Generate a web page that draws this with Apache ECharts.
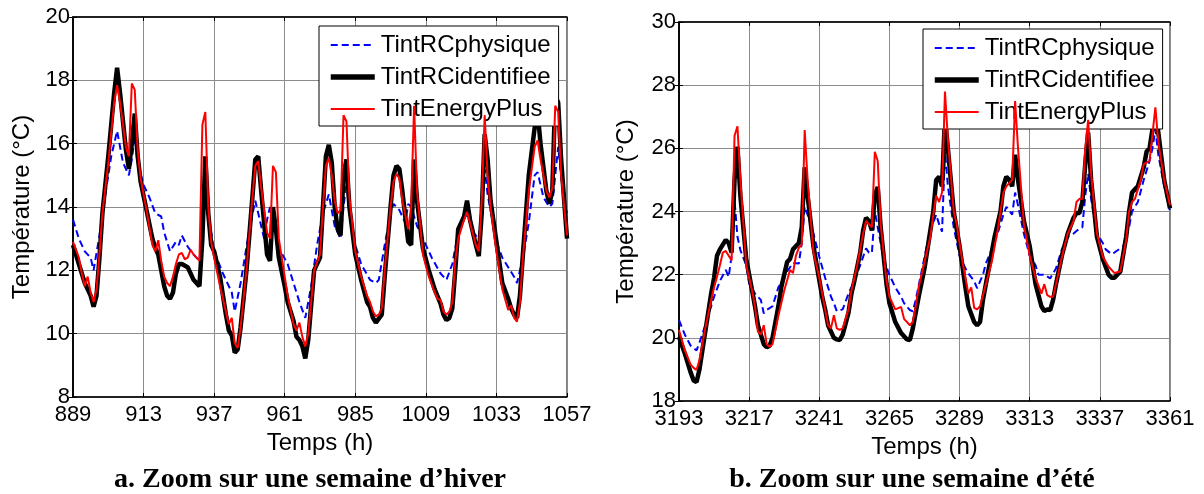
<!DOCTYPE html>
<html><head><meta charset="utf-8">
<script src="https://cdn.jsdelivr.net/npm/echarts@6/dist/echarts.min.js"></script>
<style>html,body{margin:0;padding:0;background:#fff}#c{width:1204px;height:494px}</style>
</head><body><div id="c"></div>
<script>
// ---------- data ----------
const seriesNames = ['TintRCphysique', 'TintRCidentifiee', 'TintEnergyPlus'];
const captions = ['a. Zoom sur une semaine d\u2019hiver', 'b. Zoom sur une semaine d\u2019\u00e9t\u00e9'];
const xName = 'Temps (h)';
const yName = 'Temp\u00e9rature (\u00b0C)';
const xTicksA = [889, 913, 937, 961, 985, 1009, 1033, 1057];
const xTicksB = [3193, 3217, 3241, 3265, 3289, 3313, 3337, 3361];
const yRangeA = [8, 20];
const yRangeB = [18, 30];

// Winter week: [hour, °C]
const physA = [[889,13.6],[891,13.0],[893,12.6],[895,12.4],[896,12.0],[898,13.1],[900,14.4],[902,15.6],[904,16.4],[906,15.4],[908,15.0],[909,15.5],[910,16.2],[911,15.4],[913,14.7],[915,14.3],[917,13.8],[919,13.7],[920,13.2],[922,12.6],[924,12.9],[925,12.8],[926,13.1],[928,12.75],[930,12.5],[932,12.3],[933,13.5],[934,14.9],[935,13.8],[937,12.6],[940,11.9],[943,11.3],[944,10.7],[946,11.6],[949,13.3],[951,14.2],[952,13.8],[954,13.0],[955,13.6],[956,14.0],[957,13.6],[959,12.7],[962,12.2],[964,11.6],[966,11.0],[968,10.5],[970,11.5],[972,12.8],[974,13.8],[976,14.4],[978,13.4],[980,13.0],[981,14.0],[982,14.8],[983,13.8],[985,12.8],[987,12.2],[990,11.7],[992,11.6],[993,11.7],[995,12.8],[997,13.8],[998,14.1],[1000,13.9],[1002,13.5],[1003,14.1],[1004,14.0],[1006,13.4],[1008,13.0],[1011,12.4],[1014,11.9],[1016,11.7],[1018,12.2],[1020,13.2],[1022,13.6],[1023,13.8],[1025,13.2],[1027,13.0],[1028,14.0],[1029,15.2],[1030,14.4],[1033,12.9],[1035,12.4],[1037,12.1],[1039,11.8],[1040,11.6],[1042,12.4],[1044,13.5],[1046,15.0],[1047,15.1],[1049,14.3],[1051,14.0],[1052,14.1],[1053,15.0],[1054,15.9],[1055,15.0],[1056,14.2],[1057,13.8]];
const identA = [[889,12.8],[891,12.2],[893,11.6],[894,11.4],[895,11.2],[896,10.85],[897,11.2],[898,12.4],[899,13.8],[901,15.6],[903,17.6],[904,18.4],[905,17.6],[907,15.8],[908,15.2],[909,16.0],[910,16.95],[911,15.6],[912,14.8],[914,13.9],[916,13.0],[917,12.7],[918,12.5],[920,11.5],[921,11.2],[922,11.1],[923,11.3],[924,11.9],[925,12.2],[926,12.2],[928,12.1],[930,11.7],[931,11.6],[932,11.5],[933,13.0],[934,15.6],[935,13.8],[936,12.8],[937,12.6],[939,11.8],[941,10.6],[942,10.1],[943,9.95],[944,9.4],[945,9.5],[946,10.2],[948,12.0],[950,14.3],[951,15.5],[952,15.6],[953,14.5],[955,12.5],[956,12.3],[957,14.0],[958,13.3],[959,12.4],[961,11.5],[962,11.0],[964,10.4],[965,9.9],[966,9.8],[967,9.6],[968,9.22],[969,9.8],[971,12.0],[973,12.4],[974,14.0],[975,15.6],[976,15.96],[977,15.4],[978,14.0],[979,13.3],[980,13.1],[981,15.0],[982,15.5],[983,14.0],[985,12.5],[987,11.7],[989,11.0],[990,10.85],[991,10.5],[992,10.35],[994,10.6],[995,11.8],[997,14.0],[998,15.0],[999,15.3],[1000,15.2],[1001,14.5],[1003,12.9],[1004,12.8],[1005,15.5],[1006,14.2],[1008,12.7],[1010,12.0],[1012,11.4],[1014,10.95],[1015,10.6],[1016,10.43],[1017,10.5],[1018,10.8],[1019,12.0],[1020,13.3],[1021,13.5],[1022,13.7],[1023,14.2],[1024,13.6],[1026,12.8],[1027,12.45],[1028,13.8],[1029,16.3],[1030,15.5],[1031,14.2],[1033,12.9],[1035,11.6],[1037,11.1],[1038,10.8],[1039,10.6],[1040,10.5],[1041,11.2],[1042,12.5],[1044,15.0],[1046,16.5],[1047,17.0],[1048,16.0],[1050,14.5],[1051,14.1],[1052,14.5],[1053,17.5],[1054,17.3],[1055,15.5],[1057,13.0]];
const energyA = [[889,12.9],[891,12.4],[892,11.9],[893,11.5],[894,11.8],[895,11.3],[896,11.0],[897,11.4],[898,12.5],[899,13.8],[901,15.4],[903,17.3],[904,17.85],[905,17.3],[907,15.9],[908,15.6],[909,17.9],[910,17.7],[911,15.8],[912,14.9],[914,13.9],[916,12.8],[917,12.6],[918,12.95],[919,12.3],[920,11.8],[921,11.6],[922,11.5],[923,11.8],[924,12.2],[925,12.5],[926,12.55],[927,12.35],[928,12.4],[929,12.65],[930,12.5],[931,12.4],[932,12.3],[933,16.6],[934,17.0],[935,14.0],[936,12.9],[937,12.4],[939,11.5],[940,11.1],[942,10.3],[943,10.5],[944,9.7],[945,9.55],[946,10.2],[948,12.0],[950,14.3],[951,15.3],[952,15.45],[953,14.6],[955,13.2],[956,13.0],[957,15.3],[958,15.1],[959,13.0],[961,11.8],[962,11.2],[964,10.3],[965,10.1],[966,10.35],[967,9.9],[968,9.6],[969,10.0],[971,12.0],[973,12.5],[974,14.0],[975,15.3],[976,15.55],[977,15.0],[978,14.2],[979,13.8],[980,13.9],[981,16.9],[982,16.7],[983,14.3],[985,12.6],[987,11.8],[989,11.2],[990,11.0],[991,10.7],[992,10.55],[993,10.6],[994,10.8],[995,12.0],[997,14.0],[998,14.8],[999,15.05],[1000,14.9],[1001,14.2],[1003,13.3],[1004,14.0],[1005,17.2],[1006,14.5],[1008,12.5],[1010,11.8],[1012,11.3],[1013,11.1],[1014,11.06],[1015,10.7],[1016,10.6],[1017,10.7],[1018,11.0],[1019,12.3],[1020,13.0],[1022,13.6],[1023,13.85],[1024,13.5],[1026,12.8],[1027,12.6],[1028,14.2],[1029,16.9],[1030,15.0],[1031,14.0],[1033,12.6],[1035,11.4],[1037,10.75],[1038,10.9],[1039,10.5],[1040,10.38],[1041,11.0],[1042,12.4],[1044,14.5],[1046,15.9],[1047,16.1],[1048,15.5],[1050,14.5],[1051,14.3],[1052,14.6],[1053,17.2],[1054,17.0],[1055,15.0],[1057,13.1]];

// Summer week: [hour, °C]
const physB = [[3193,20.56],[3195,20.1],[3197,19.75],[3199,19.6],[3200,19.85],[3202,20.4],[3205,21.3],[3207,21.8],[3209,22.15],[3210,21.93],[3211,22.6],[3212,24.36],[3213,23.2],[3214,22.78],[3216,22.3],[3217,21.72],[3219,21.4],[3221,21.2],[3222,20.78],[3223,20.88],[3225,21.0],[3227,21.6],[3229,21.9],[3230,22.1],[3232,22.37],[3234,22.35],[3235,23.0],[3236,24.15],[3237,23.9],[3239,23.3],[3241,22.57],[3243,21.9],[3245,21.3],[3246,21.1],[3247,20.84],[3249,20.9],[3251,21.4],[3253,21.8],[3255,22.3],[3257,22.83],[3258,22.7],[3259,22.68],[3260,24.0],[3261,23.5],[3263,22.5],[3265,21.99],[3267,21.6],[3269,21.3],[3270,21.1],[3272,20.88],[3273,20.84],[3274,21.2],[3276,22.1],[3278,23.0],[3279,23.4],[3281,23.9],[3282,23.6],[3283,23.36],[3284,25.9],[3285,24.8],[3287,23.5],[3289,22.6],[3291,22.2],[3292,22.04],[3294,21.8],[3295,21.57],[3297,22.0],[3298,22.36],[3300,22.8],[3302,23.3],[3304,23.9],[3305,24.15],[3307,23.9],[3308,24.6],[3309,24.2],[3311,23.3],[3313,22.6],[3315,22.3],[3316,22.0],[3318,22.0],[3320,21.88],[3322,22.2],[3324,22.8],[3326,23.2],[3328,23.3],[3330,23.46],[3331,23.5],[3332,24.5],[3333,25.2],[3334,24.4],[3336,23.3],[3338,23.0],[3339,22.8],[3341,22.65],[3342,22.7],[3345,22.9],[3347,23.5],[3348,24.0],[3350,24.3],[3352,25.0],[3353,25.3],[3354,25.6],[3355,26.0],[3356,26.6],[3357,25.8],[3359,24.8],[3361,24.0]];
const identB = [[3193,20.03],[3195,19.5],[3197,18.9],[3198,18.65],[3199,18.6],[3200,19.0],[3202,20.2],[3204,21.4],[3205,21.9],[3206,22.6],[3207,22.8],[3208,22.95],[3209,23.1],[3210,23.0],[3211,22.7],[3212,25.0],[3213,26.05],[3214,24.5],[3216,22.5],[3218,21.5],[3219,21.0],[3220,20.4],[3221,20.1],[3222,19.8],[3223,19.7],[3224,19.75],[3225,20.0],[3227,21.0],[3228,21.6],[3230,22.4],[3231,22.5],[3232,22.8],[3234,23.0],[3235,23.5],[3236,25.4],[3237,24.5],[3239,22.9],[3241,21.83],[3242,21.3],[3243,20.9],[3244,20.4],[3246,20.0],[3247,19.95],[3248,19.93],[3249,20.1],[3251,20.8],[3252,21.4],[3253,21.8],[3255,22.7],[3256,23.4],[3257,23.8],[3258,23.7],[3259,23.4],[3260,24.5],[3261,24.78],[3262,23.5],[3264,21.7],[3265,21.1],[3267,20.5],[3269,20.15],[3271,19.95],[3272,19.93],[3273,20.3],[3274,20.8],[3275,21.3],[3277,22.2],[3279,23.4],[3280,24.0],[3281,25.0],[3282,25.1],[3283,24.8],[3284,27.0],[3285,26.0],[3287,24.0],[3289,22.9],[3291,21.6],[3292,21.0],[3294,20.5],[3295,20.4],[3296,20.5],[3297,21.2],[3299,22.2],[3301,23.2],[3303,24.0],[3304,24.8],[3305,25.1],[3306,25.0],[3307,24.8],[3308,25.8],[3309,25.0],[3311,23.7],[3313,22.9],[3315,21.7],[3317,21.0],[3318,20.85],[3319,20.9],[3320,20.88],[3321,21.2],[3322,21.7],[3324,22.6],[3326,23.3],[3328,23.8],[3329,23.95],[3330,23.95],[3331,24.3],[3332,25.5],[3333,26.5],[3334,25.0],[3336,23.2],[3338,22.5],[3340,22.0],[3341,21.9],[3342,21.9],[3344,22.1],[3346,23.2],[3347,24.0],[3348,24.6],[3349,24.7],[3350,24.8],[3352,25.4],[3353,25.9],[3354,26.0],[3356,27.2],[3357,26.5],[3359,25.0],[3361,24.1]];
const energyB = [[3193,20.25],[3195,19.6],[3197,19.15],[3198,19.05],[3199,18.98],[3200,19.3],[3202,20.3],[3204,21.2],[3205,21.6],[3206,21.93],[3207,22.3],[3208,22.7],[3209,22.75],[3210,22.6],[3211,22.45],[3212,26.4],[3213,26.7],[3214,25.0],[3216,22.3],[3218,21.5],[3219,21.0],[3220,20.2],[3221,20.1],[3222,20.4],[3223,19.8],[3224,19.72],[3225,19.8],[3227,20.7],[3229,21.5],[3231,22.15],[3232,22.05],[3233,22.6],[3234,22.85],[3235,22.95],[3236,26.58],[3237,25.0],[3239,22.7],[3241,21.9],[3243,20.9],[3244,20.4],[3245,20.3],[3246,20.72],[3247,20.3],[3248,20.25],[3249,20.3],[3251,20.9],[3252,21.5],[3254,22.3],[3256,23.3],[3257,23.7],[3258,23.6],[3259,23.5],[3260,25.89],[3261,25.6],[3262,23.6],[3264,21.8],[3265,21.3],[3267,20.9],[3269,20.98],[3270,20.6],[3272,20.4],[3273,20.5],[3274,21.0],[3275,21.6],[3277,22.4],[3279,23.2],[3280,23.9],[3281,24.5],[3282,24.3],[3283,24.6],[3284,27.8],[3285,26.3],[3287,24.0],[3288,23.6],[3290,22.4],[3292,21.4],[3293,21.6],[3294,20.95],[3295,20.9],[3296,21.0],[3298,21.7],[3300,22.4],[3302,23.4],[3303,24.0],[3304,24.6],[3305,24.8],[3306,24.9],[3307,25.0],[3308,27.5],[3309,26.0],[3311,23.6],[3313,22.6],[3315,21.9],[3317,21.4],[3318,21.7],[3319,21.35],[3320,21.3],[3321,21.3],[3322,21.7],[3324,22.55],[3326,23.3],[3328,23.7],[3329,24.3],[3330,24.4],[3331,24.4],[3332,26.0],[3333,26.9],[3334,25.2],[3336,23.3],[3338,22.57],[3340,22.25],[3342,22.05],[3344,22.1],[3346,23.1],[3347,24.0],[3348,24.3],[3349,24.4],[3351,25.0],[3352,25.5],[3354,25.6],[3356,27.3],[3357,26.2],[3359,25.0],[3361,24.2]];

// ---------- chart ----------
const FONT = 'Liberation Sans';
const lineStyles = [
  { color: '#0000ff', width: 2, type: [7, 4] },
  { color: '#000000', width: 4.5 },
  { color: '#ff0000', width: 2 }
];
const legendLineWidths = [2, 5.5, 2];
const GRID_COLOR = '#8c8c8c';
const span = xTicksA[xTicksA.length - 1] - xTicksA[0];
const step = xTicksA[1] - xTicksA[0];

function xAxes(gridIndex, ticks) {
  const base = {
    gridIndex, type: 'value', min: 0, max: span, interval: step,
    axisLine: { show: true, lineStyle: { color: '#000', width: 1.5 } },
    axisTick: { show: true, inside: true, length: 4, lineStyle: { color: '#000' } }
  };
  return [
    Object.assign({}, base, {
      position: 'bottom',
      splitLine: { show: true, lineStyle: { color: GRID_COLOR, width: 1 } },
      axisLabel: { show: true, margin: 7, fontSize: 22, fontFamily: FONT, color: '#000',
        formatter: v => String(ticks[Math.round(v / step)]) },
      name: xName, nameLocation: 'middle', nameGap: 28,
      nameTextStyle: { fontSize: 24, fontFamily: FONT, color: '#000' }
    }),
    Object.assign({}, base, { position: 'top', splitLine: { show: false }, axisLabel: { show: false } })
  ];
}
function yAxes(gridIndex, range, gap) {
  const base = {
    gridIndex, type: 'value', min: range[0], max: range[1], interval: 2,
    axisLine: { show: true, lineStyle: { color: '#000', width: 1.5 } },
    axisTick: { show: true, inside: true, length: 4, lineStyle: { color: '#000' } }
  };
  return [
    Object.assign({}, base, {
      position: 'left',
      splitLine: { show: true, lineStyle: { color: GRID_COLOR, width: 1 } },
      axisLabel: { show: true, margin: 3, fontSize: 22, fontFamily: FONT, color: '#000' },
      name: yName, nameLocation: 'middle', nameGap: gap,
      nameTextStyle: { fontSize: 24, fontFamily: FONT, color: '#000' }
    }),
    Object.assign({}, base, { position: 'right', splitLine: { show: false }, axisLabel: { show: false } })
  ];
}
function mkSeries(sets, start, axisIdx) {
  return sets.map((d, i) => ({
    type: 'line', name: seriesNames[i], xAxisIndex: axisIdx, yAxisIndex: axisIdx,
    data: d.map(p => [p[0] - start, p[1]]),
    showSymbol: false, symbol: 'none', lineStyle: lineStyles[i], itemStyle: { color: lineStyles[i].color },
    z: 2 + i, silent: true
  }));
}
function legend(left, top) {
  return {
    data: seriesNames.map((n, i) => ({ name: n, lineStyle: { width: legendLineWidths[i] } })),
    orient: 'vertical', left, top,
    itemWidth: 44, itemHeight: 24, itemGap: 8,
    padding: [7, 8, 5, 9],
    itemStyle: { opacity: 0 },
    backgroundColor: '#fff', borderColor: '#000', borderWidth: 1, borderRadius: 0,
    textStyle: { fontSize: 24, fontFamily: FONT, color: '#000', padding: [0, 0, 0, 1] },
    selectedMode: false
  };
}
const captionStyle = { fontFamily: 'Liberation Serif', fontWeight: 'bold', fontSize: 28, color: '#000' };

const chart = echarts.init(document.getElementById('c'), null, { renderer: 'canvas' });
chart.setOption({
  animation: false,
  backgroundColor: '#fff',
  grid: [
    { left: 73, top: 17, width: 494, height: 380, show: true, borderColor: '#000', borderWidth: 1, backgroundColor: 'transparent' },
    { left: 679, top: 22, width: 491, height: 379, show: true, borderColor: '#000', borderWidth: 1, backgroundColor: 'transparent' }
  ],
  xAxis: [...xAxes(0, xTicksA), ...xAxes(1, xTicksB)],
  yAxis: [...yAxes(0, yRangeA, 39), ...yAxes(1, yRangeB, 41)],
  legend: [legend(319, 26), legend(923, 29)],
  title: [
    { text: captions[0], left: 310, top: 466, textAlign: 'center', padding: 0, textStyle: captionStyle },
    { text: captions[1], left: 912, top: 466, textAlign: 'center', padding: 0, textStyle: captionStyle }
  ],
  series: [
    ...mkSeries([physA, identA, energyA], xTicksA[0], 0),
    ...mkSeries([physB, identB, energyB], xTicksB[0], 2)
  ]
});
</script></body></html>
